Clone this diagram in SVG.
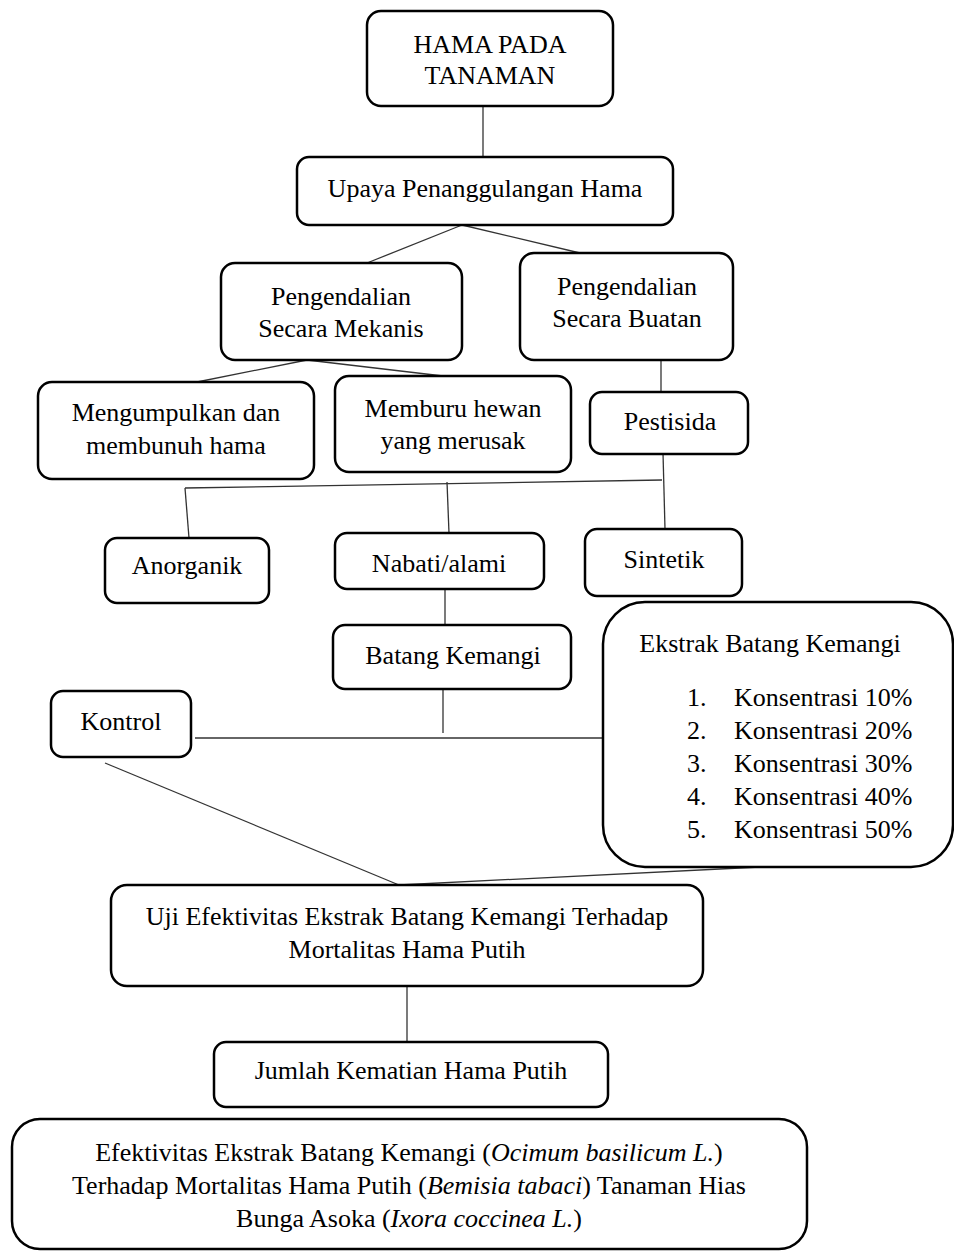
<svg xmlns="http://www.w3.org/2000/svg" width="954" height="1252" viewBox="0 0 954 1252">
<style>
.box{fill:#fff;stroke:#000;stroke-width:2.5}
.t{font-family:"Liberation Serif","Times New Roman",serif;font-size:26px;fill:#000;text-anchor:middle}
.ts{font-family:"Liberation Serif","Times New Roman",serif;font-size:26px;fill:#000}
.i{font-style:italic}
#connectors line{stroke:#333;stroke-width:1.3}
</style>
<rect width="954" height="1252" fill="#fff"/>
<g id="connectors">
<line x1="483" y1="106" x2="483" y2="157"/>
<line x1="462" y1="225" x2="367" y2="263"/>
<line x1="462" y1="225" x2="580" y2="253"/>
<line x1="307" y1="360" x2="197" y2="382"/>
<line x1="307" y1="360" x2="443" y2="376"/>
<line x1="661" y1="356" x2="661" y2="392"/>
<line x1="663" y1="453" x2="665" y2="529"/>
<line x1="185" y1="488" x2="662" y2="480"/>
<line x1="185" y1="488" x2="189" y2="538"/>
<line x1="447" y1="482" x2="449" y2="533"/>
<line x1="445" y1="583" x2="445" y2="625"/>
<line x1="443" y1="689" x2="443" y2="733"/>
<line x1="195" y1="738" x2="603" y2="738"/>
<line x1="105" y1="763" x2="399" y2="885"/>
<line x1="399" y1="885" x2="760" y2="867"/>
<line x1="407" y1="986" x2="407" y2="1042"/>
</g>
<g id="hama">
<rect class="box" x="367" y="11" width="246" height="95" rx="14"/>
<text class="t" x="490" y="53">HAMA PADA</text>
<text class="t" x="490" y="84">TANAMAN</text>
</g>
<g id="upaya">
<rect class="box" x="297" y="157" width="376" height="68" rx="12"/>
<text class="t" x="485" y="197">Upaya Penanggulangan Hama</text>
</g>
<g id="mekanis">
<rect class="box" x="221" y="263" width="241" height="97" rx="14"/>
<text class="t" x="341" y="305">Pengendalian</text>
<text class="t" x="341" y="337">Secara Mekanis</text>
</g>
<g id="buatan">
<rect class="box" x="520" y="253" width="213" height="107" rx="14"/>
<text class="t" x="627" y="295">Pengendalian</text>
<text class="t" x="627" y="327">Secara Buatan</text>
</g>
<g id="mengumpulkan">
<rect class="box" x="38" y="382" width="276" height="97" rx="14"/>
<text class="t" x="176" y="421">Mengumpulkan dan</text>
<text class="t" x="176" y="454">membunuh hama</text>
</g>
<g id="memburu">
<rect class="box" x="335" y="376" width="236" height="96" rx="14"/>
<text class="t" x="453" y="417">Memburu hewan</text>
<text class="t" x="453" y="449">yang merusak</text>
</g>
<g id="pestisida">
<rect class="box" x="590" y="392" width="158" height="62" rx="12"/>
<text class="t" x="670" y="430">Pestisida</text>
</g>
<g id="anorganik">
<rect class="box" x="105" y="538" width="164" height="65" rx="12"/>
<text class="t" x="187" y="574">Anorganik</text>
</g>
<g id="nabati">
<rect class="box" x="335" y="533" width="209" height="56" rx="12"/>
<text class="t" x="439" y="572">Nabati/alami</text>
</g>
<g id="sintetik">
<rect class="box" x="585" y="529" width="157" height="67" rx="12"/>
<text class="t" x="664" y="568">Sintetik</text>
</g>
<g id="batang">
<rect class="box" x="333" y="625" width="238" height="64" rx="12"/>
<text class="t" x="453" y="664">Batang Kemangi</text>
</g>
<g id="kontrol">
<rect class="box" x="51" y="691" width="140" height="66" rx="12"/>
<text class="t" x="121" y="730">Kontrol</text>
</g>
<g id="ekstrak">
<rect class="box" x="603" y="602" width="350" height="265" rx="42"/>
<text class="t" x="770" y="652">Ekstrak Batang Kemangi</text>
<text class="ts" x="687" y="706">1.</text><text class="ts" x="734" y="706">Konsentrasi 10%</text>
<text class="ts" x="687" y="739">2.</text><text class="ts" x="734" y="739">Konsentrasi 20%</text>
<text class="ts" x="687" y="772">3.</text><text class="ts" x="734" y="772">Konsentrasi 30%</text>
<text class="ts" x="687" y="805">4.</text><text class="ts" x="734" y="805">Konsentrasi 40%</text>
<text class="ts" x="687" y="838">5.</text><text class="ts" x="734" y="838">Konsentrasi 50%</text>
</g>
<g id="uji">
<rect class="box" x="111" y="885" width="592" height="101" rx="16"/>
<text class="t" x="407" y="925">Uji Efektivitas Ekstrak Batang Kemangi Terhadap</text>
<text class="t" x="407" y="958">Mortalitas Hama Putih</text>
</g>
<g id="jumlah">
<rect class="box" x="214" y="1042" width="394" height="65" rx="12"/>
<text class="t" x="411" y="1079">Jumlah Kematian Hama Putih</text>
</g>
<g id="judul">
<rect class="box" x="12" y="1119" width="795" height="130" rx="28"/>
<text class="t" x="409" y="1161">Efektivitas Ekstrak Batang Kemangi (<tspan class="i">Ocimum basilicum L.</tspan>)</text>
<text class="t" x="409" y="1194">Terhadap Mortalitas Hama Putih (<tspan class="i">Bemisia tabaci</tspan>) Tanaman Hias</text>
<text class="t" x="409" y="1227">Bunga Asoka (<tspan class="i">Ixora coccinea L.</tspan>)</text>
</g>
</svg>
